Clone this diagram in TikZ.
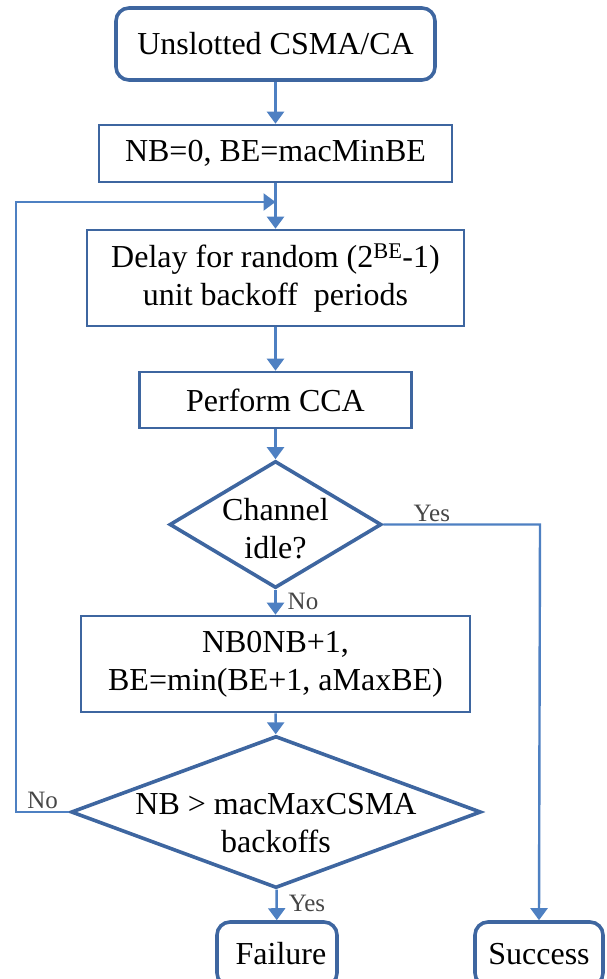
\documentclass[tikz,border=0pt]{standalone}
\usepackage{fontspec}
\setmainfont{Liberation Serif}
\usetikzlibrary{shapes.geometric}
\usetikzlibrary{arrows.meta}
\definecolor{boxblue}{RGB}{62,102,160}
\definecolor{lineblue}{RGB}{78,128,194}
\definecolor{lblgray}{RGB}{70,70,70}
\newcommand{\dtext}[2]{\raisebox{#1}[0pt][0pt]{\makebox[0pt]{\begin{tabular}{@{}c@{}}#2\end{tabular}}}}
\tikzset{
  stepbox/.style={draw=boxblue, line width=2.6pt, rectangle, inner sep=0pt, align=center},
  termbox/.style={draw=boxblue, line width=3.6pt, rectangle, rounded corners=13pt, inner sep=0pt, align=center},
  decide/.style={draw=boxblue, line width=3.6pt, diamond, inner sep=0pt},
  flow/.style={draw=lineblue, line width=2.4pt, -{Triangle[width=17pt,length=12pt]}},
  lbl/.style={text=lblgray, font=\fontsize{25}{28}\selectfont, inner sep=2pt}
}

\begin{document}
\begin{tikzpicture}[x=1pt, y=-1pt, font=\fontsize{32}{38}\selectfont]
\useasboundingbox (0,0) rectangle (606,979);

\node[termbox, minimum width=319, minimum height=72] (start) at (275.5,44) {Unslotted CSMA/CA};
\node[stepbox, minimum width=353, minimum height=57] (init) at (275.5,153.5) {NB=0, BE=macMinBE};
\node[stepbox, minimum width=377, minimum height=96] (delay) at (275.5,278) {Delay for random (2\textsuperscript{BE}-1)\\unit backoff \ periods};
\node[stepbox, minimum width=272, minimum height=56] (cca) at (275.5,400) {Perform CCA};
\node[decide, minimum width=212, minimum height=127] (idle) at (275.5,524.5) {\dtext{-14pt}{Channel\\idle?}};
\node[stepbox, minimum width=389, minimum height=96] (upd) at (275.5,664) {NB0NB+1,\\BE=min(BE+1, aMaxBE)};
\node[decide, minimum width=410, minimum height=152] (limit) at (276,812) {\dtext{-20pt}{NB > macMaxCSMA\\backoffs}};
\node[termbox, minimum width=120, minimum height=64] (fail) at (277,954) {\hspace*{8pt}Failure};
\node[termbox, minimum width=128, minimum height=64] (succ) at (539,954) {Success};

\coordinate (merge) at (275.5,202);
\coordinate (back) at (16,812);
\coordinate (turn) at (540,524.5);

\draw[flow] (start) -- (init);
\draw[flow] (init) -- (delay);
\draw[flow] (delay) -- (cca);
\draw[flow] (cca) -- (idle);
\draw[flow] (idle) -- node[lbl, right=9pt, pos=0.45] {No} (upd);
\draw[flow] (upd) -- (limit);
\draw[flow] (limit) -- node[lbl, right=9pt, pos=0.45] {Yes} (fail);
\draw[flow] (idle.east) -- node[lbl, above, pos=0.31] {Yes} (turn) -- (succ.north);
\draw[flow] (limit.west) -- node[lbl, above, pos=0.5] {No} (back) -- (16,202) -- (merge);

\end{tikzpicture}
\end{document}
